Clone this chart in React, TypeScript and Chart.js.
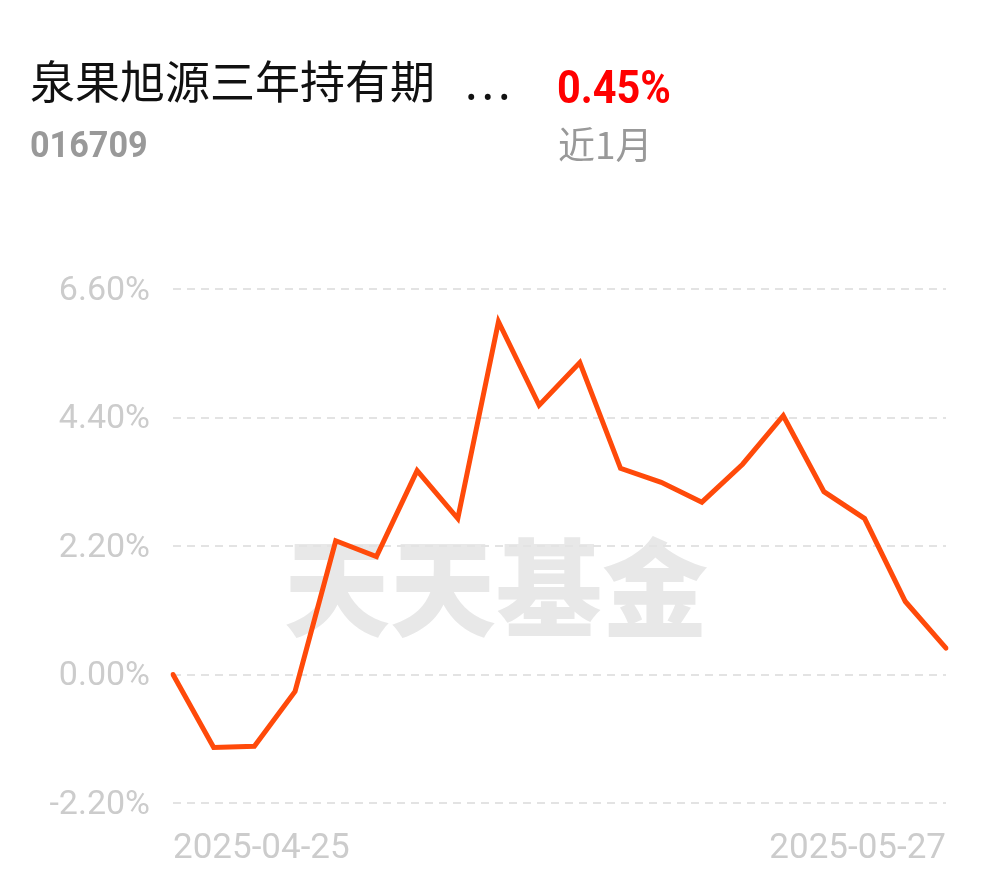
import React, { useEffect, useRef } from 'react';
import { Chart, registerables } from 'chart.js';

Chart.register(...registerables);

const fundNameMain = '泉果旭源三年持有期';
const fundNameEllipsis = '...';
const fundCode = '016709';
const periodReturn = '0.45%';
const periodLabel = '近1月';
const watermarkText = '天天基金';

const dates = [
  '2025-04-25', '2025-04-28', '2025-04-29', '2025-04-30', '2025-05-06',
  '2025-05-07', '2025-05-08', '2025-05-09', '2025-05-12', '2025-05-13',
  '2025-05-14', '2025-05-15', '2025-05-16', '2025-05-19', '2025-05-20',
  '2025-05-21', '2025-05-22', '2025-05-23', '2025-05-26', '2025-05-27',
];
const returns = [
  0, -1.25, -1.23, -0.29, 2.29,
  2.02, 3.49, 2.67, 6.04, 4.61,
  5.34, 3.53, 3.29, 2.95, 3.6,
  4.43, 3.13, 2.67, 1.25, 0.45,
];
const yTicks = [-2.2, 0, 2.2, 4.4, 6.6];

const watermarkPlugin = {
  id: 'watermark',
  beforeDraw(chart: any) {
    const ctx = chart.ctx;
    ctx.save();
    ctx.font = '900 106px "Noto Sans CJK SC"';
    ctx.fillStyle = '#e8e8e8';
    ctx.textAlign = 'center';
    ctx.textBaseline = 'middle';
    ctx.fillText(watermarkText, chart.width / 2 + 1, 588);
    ctx.restore();
  },
};

function FundChart() {
  const ref = useRef<HTMLCanvasElement | null>(null);
  useEffect(() => {
    if (!ref.current) return;
    const chart = new Chart(ref.current, {
      type: 'line',
      data: {
        labels: dates,
        datasets: [
          {
            data: returns,
            borderColor: '#ff4a0a',
            borderWidth: 5,
            pointRadius: 0,
            tension: 0,
            borderCapStyle: 'round',
            fill: false,
          },
        ],
      },
      options: {
        animation: false,
        responsive: true,
        maintainAspectRatio: false,
        layout: { padding: { top: 289, right: 44, left: 0, bottom: 0 } },
        plugins: { legend: { display: false }, tooltip: { enabled: false } },
        scales: {
          x: {
            type: 'category',
            grid: { display: false },
            border: { display: false },
            ticks: {
              autoSkip: false,
              maxRotation: 0,
              minRotation: 0,
              align: 'inner',
              color: '#cccccc',
              font: { family: 'Roboto', size: 35 },
              padding: 17,
              callback: (_v: any, i: number, arr: any[]) =>
                i === 0 || i === arr.length - 1 ? dates[i] : '',
            },
            afterFit: (s: any) => {
              s.height = 75;
            },
          },
          y: {
            min: yTicks[0],
            max: yTicks[yTicks.length - 1],
            afterBuildTicks: (s: any) => {
              s.ticks = yTicks.map((v) => ({ value: v }));
            },
            afterFit: (s: any) => {
              s.width = 173;
            },
            grid: {
              color: '#e3e3e3',
              lineWidth: 2,
              drawTicks: false,
            },
            border: { display: false, dash: [8, 6] },
            ticks: {
              color: '#cccccc',
              font: { family: 'Roboto', size: 34 },
              padding: 23,
              labelOffset: 2,
              callback: (v: any) => Number(v).toFixed(2) + '%',
            },
          },
        },
      },
      plugins: [watermarkPlugin],
    } as any);
    return () => chart.destroy();
  }, []);
  return <canvas ref={ref} />;
}

export default function App() {
  const abs: React.CSSProperties = { position: 'absolute', whiteSpace: 'nowrap' };
  return (
    <div
      style={{
        position: 'absolute',
        left: 0,
        top: 0,
        width: 990,
        height: 878,
        background: '#ffffff',
        overflow: 'hidden',
      }}
    >
      <div style={{ position: 'absolute', left: 0, top: 0, width: 990, height: 878 }}>
        <FundChart />
      </div>
      <div
        style={{
          ...abs,
          left: 30,
          top: 57,
          fontFamily: '"Noto Sans CJK SC"',
          fontSize: 45,
          lineHeight: '45px',
          color: '#111111',
        }}
      >
        {fundNameMain}
        <span style={{ marginLeft: 30, letterSpacing: 4 }}>{fundNameEllipsis}</span>
      </div>
      <div
        style={{
          ...abs,
          left: 557,
          top: 64,
          fontFamily: 'Roboto',
          fontWeight: 700,
          fontSize: 46,
          lineHeight: '46px',
          color: '#ff0000',
          transform: 'scaleX(0.9)',
          transformOrigin: 'left center',
        }}
      >
        {periodReturn}
      </div>
      <div
        style={{
          ...abs,
          left: 30,
          top: 127,
          fontFamily: 'Roboto',
          fontWeight: 700,
          fontSize: 36,
          lineHeight: '36px',
          color: '#999999',
          transform: 'scaleX(0.95)',
          transformOrigin: 'left center',
        }}
      >
        {fundCode}
      </div>
      <div
        style={{
          ...abs,
          left: 558,
          top: 125,
          fontFamily: '"Noto Sans CJK SC"',
          fontSize: 37,
          lineHeight: '37px',
          color: '#999999',
        }}
      >
        {periodLabel}
      </div>
    </div>
  );
}
